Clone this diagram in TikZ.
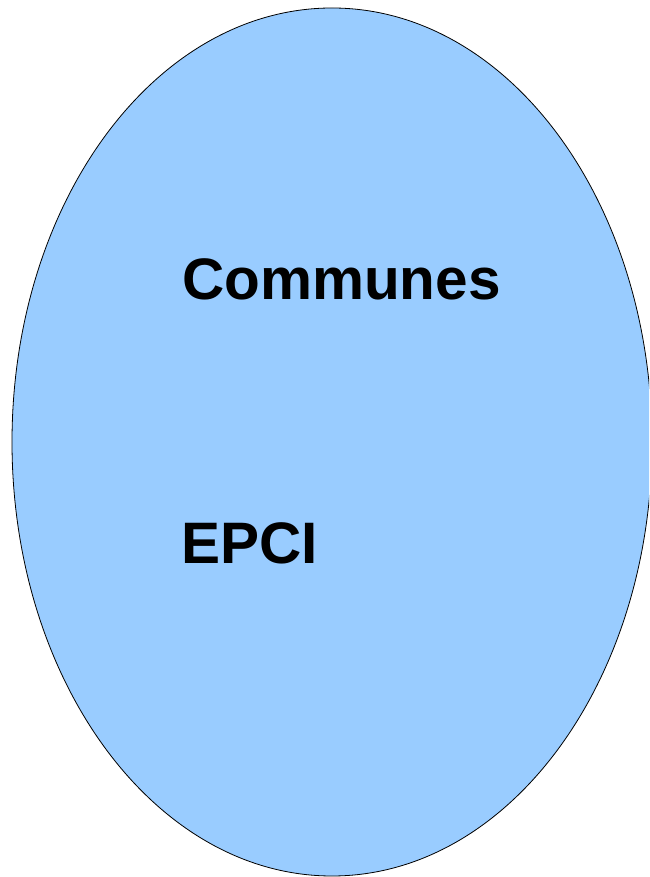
\documentclass[tikz,border=0pt]{standalone}
\usepackage{fontspec}
\setmainfont{Liberation Sans}
\usetikzlibrary{positioning}
\definecolor{bubblefill}{HTML}{99CCFF}

\begin{document}
\begin{tikzpicture}[
        x=1pt, y=1pt,
        bubble/.style={draw=black, fill=bubblefill, line width=0.8pt},
        label/.style={font=\fontsize{58.5}{70}\selectfont\bfseries, anchor=base west, inner sep=0pt}
    ]
        \useasboundingbox (0,0) rectangle (649,877);
        \clip (0,0) rectangle (649,877);
        \draw[bubble] (332,435) ellipse [x radius=320, y radius=434];
        \node[label] (communes) at (182,577) {Communes};
        \node[label] (epci) at (181,313) {EPCI};
    \end{tikzpicture}
\end{document}
